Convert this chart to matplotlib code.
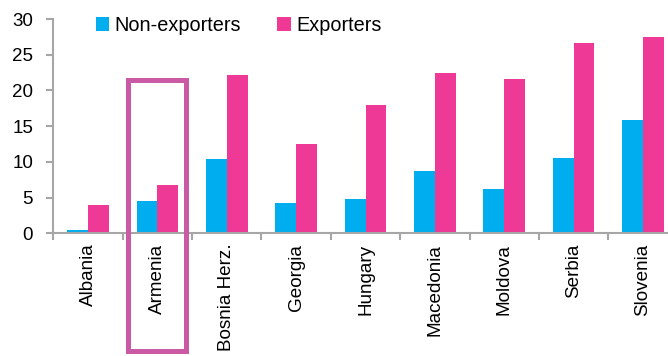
import matplotlib.pyplot as plt
import numpy as np
from matplotlib.patches import Rectangle

countries = ["Albania", "Armenia", "Bosnia Herz.", "Georgia", "Hungary",
             "Macedonia", "Moldova", "Serbia", "Slovenia"]
non_exporters = [0.4, 4.5, 10.4, 4.3, 4.8, 8.7, 6.2, 10.6, 15.9]
exporters = [4.0, 6.8, 22.2, 12.5, 18.0, 22.4, 21.6, 26.6, 27.5]

plt.rcParams["font.family"] = ["Liberation Sans", "DejaVu Sans"]

blue = "#00AEEF"
pink = "#EE3A96"
gray = "#A6A6A6"

fig = plt.figure(figsize=(6.68, 3.56), dpi=100)
ax = fig.add_axes([0.0798, 0.3447, 0.9202, 0.6019])

x = np.arange(len(countries))
w = 0.3
ax.bar(x - w / 2, non_exporters, w, color=blue, label="Non-exporters")
ax.bar(x + w / 2, exporters, w, color=pink, label="Exporters")

ax.set_xlim(-0.5, 8.36)
ax.set_ylim(0, 30)
ax.set_yticks(range(0, 31, 5))
ax.tick_params(axis="y", labelsize=13.5, length=5, width=1.5, color=gray, pad=9.5)

# ticks at category boundaries, labels in the middle
ax.set_xticks(np.arange(-0.5, 8.5, 1.0))
ax.set_xticklabels([])
ax.set_xticks(x, minor=True)
ax.set_xticklabels(countries, minor=True, rotation=90, fontsize=13.6)
ax.tick_params(axis="x", which="major", length=5, width=1.5, color=gray)
ax.tick_params(axis="x", which="minor", length=0, pad=7.5)

for s in ["top", "right"]:
    ax.spines[s].set_visible(False)
for s in ["left", "bottom"]:
    ax.spines[s].set_color(gray)
    ax.spines[s].set_linewidth(1.5)

fig.legend(*ax.get_legend_handles_labels(), loc="center left",
           bbox_to_anchor=(95.7 / 668, 1 - 25.5 / 356), ncol=2, frameon=False,
           fontsize=14.3, handlelength=0.67, handleheight=0.64,
           handletextpad=0.27, columnspacing=1.84, borderpad=0, borderaxespad=0)

# highlight box around Armenia
rect = Rectangle((0.575, -16.5), 0.84, 38.0, fill=False, edgecolor="#CB5AA5",
                 linewidth=3.6, clip_on=False, zorder=5)
ax.add_patch(rect)

fig.savefig("out.png", dpi=100)
